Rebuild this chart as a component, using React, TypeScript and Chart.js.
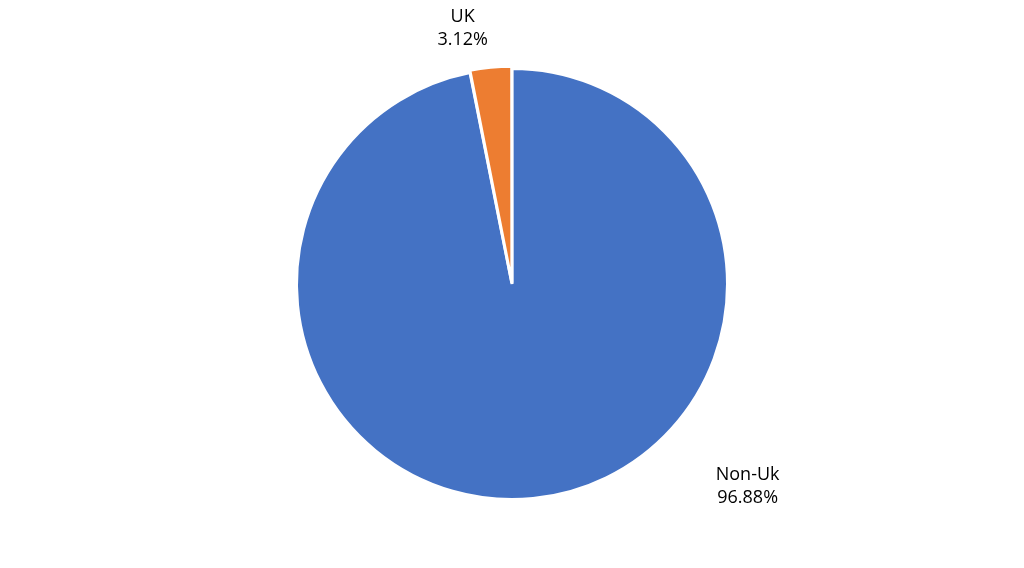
import React, { useEffect, useRef } from "react";
import { Chart, registerables } from "chart.js";

Chart.register(...registerables);

const categories = ["Non-Uk", "UK"];
const values = [96.88, 3.12];
const colors = ["#4472C4", "#ED7D31"];
const sliceOffsets = [0, 5];
// label placement: angle (deg, 0 = right, clockwise) and distance factor relative to radius
const labelAngles = [40.6, -100.9];
const labelDistances = [1.44, 1.21];

const labelPlugin = {
  id: "outsideLabels",
  afterDraw(chart: any) {
    const ctx = chart.ctx;
    const meta = chart.getDatasetMeta(0);
    ctx.save();
    ctx.font = '18px "Open Sans", "Liberation Sans", sans-serif';
    ctx.fillStyle = "#000000";
    ctx.textAlign = "center";
    ctx.textBaseline = "middle";
    meta.data.forEach((arc: any, i: number) => {
      const { x, y, outerRadius } = arc.getProps(["x", "y", "outerRadius"], true);
      const a = (labelAngles[i] * Math.PI) / 180;
      const d = outerRadius * labelDistances[i];
      const lx = x + Math.cos(a) * d;
      const ly = y + Math.sin(a) * d;
      ctx.fillText(categories[i], lx, ly - 11.5);
      ctx.fillText(values[i].toFixed(2) + "%", lx, ly + 11.5);
    });
    ctx.restore();
  },
};

export default function App() {
  const ref = useRef<HTMLCanvasElement>(null);
  useEffect(() => {
    document.body.style.margin = "0";
    const chart = new Chart(ref.current!, {
      type: "pie",
      data: {
        labels: categories,
        datasets: [
          {
            data: values,
            backgroundColor: colors,
            borderColor: "#FFFFFF",
            borderWidth: 3,
            offset: sliceOffsets,
          },
        ],
      },
      options: {
        animation: false,
        responsive: false,
        radius: 215.5,
        plugins: {
          legend: { display: false },
          tooltip: { enabled: false },
        },
      },
      plugins: [labelPlugin],
    });
    return () => chart.destroy();
  }, []);
  return (
    <div style={{ width: 1024, height: 568, background: "#fff" }}>
      <canvas ref={ref} width={1024} height={568} />
    </div>
  );
}
